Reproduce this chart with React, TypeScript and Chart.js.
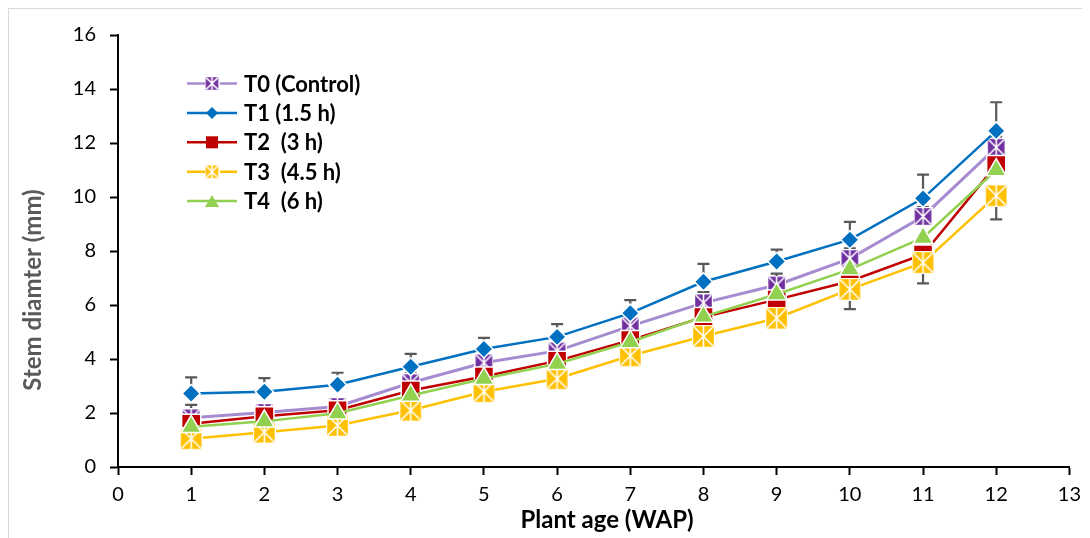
import { useEffect, useRef } from 'react';
import { Chart, registerables } from 'chart.js';

Chart.register(...registerables);

// Weeks after planting (x) and mean stem diameter (mm) per treatment
const weeks = [1, 2, 3, 4, 5, 6, 7, 8, 9, 10, 11, 12];
const t0Values = [1.82, 2.02, 2.24, 3.12, 3.86, 4.3, 5.22, 6.08, 6.74, 7.72, 9.28, 11.84];
const t1Values = [2.72, 2.79, 3.05, 3.71, 4.37, 4.82, 5.7, 6.86, 7.61, 8.42, 9.95, 12.45];
const t2Values = [1.6, 1.88, 2.1, 2.83, 3.35, 3.93, 4.7, 5.55, 6.2, 6.88, 7.87, 11.18];
const t3Values = [1.05, 1.29, 1.54, 2.1, 2.79, 3.27, 4.12, 4.84, 5.51, 6.58, 7.57, 10.05];
const t4Values = [1.49, 1.69, 1.99, 2.65, 3.27, 3.82, 4.63, 5.57, 6.4, 7.32, 8.49, 11.0];

// Error bar half-widths
const t0ErrUp = [0.48, 0.3, 0.3, 0.35, 0.3, 0.3, 0.35, 0.4, 0.42, 0.38, 0.35, 0.4];
const t1ErrUp = [0.6, 0.5, 0.44, 0.48, 0.41, 0.47, 0.48, 0.66, 0.44, 0.66, 0.88, 1.06];
const t3ErrDown = [0.25, 0.25, 0.25, 0.25, 0.25, 0.3, 0.3, 0.3, 0.3, 0.73, 0.77, 0.88];

const seriesLabels = ['T0 (Control)', 'T1 (1.5 h)', 'T2  (3 h)', 'T3  (4.5 h)', 'T4  (6 h)'];
const lineColors = ['#A78BD0', '#0070C0', '#C00000', '#FFC000', '#92D050'];
const markerColors = ['#7030A0', '#0070C0', '#C00000', '#FFC000', '#92D050'];

const yMin = 0;
const yMax = 16;
const yStep = 2;
const xMin = 0;
const xMax = 13;
const xStep = 1;

const xTitle = 'Plant age (WAP)';
const yTitle = 'Stem diamter (mm)';

const FONT = 'Lato, "Open Sans", sans-serif';

// Square marker with a white asterisk-like cross
function boxStar(color: string, size: number): HTMLCanvasElement {
  const c = document.createElement('canvas');
  const s = size + 2;
  c.width = s;
  c.height = s;
  const g = c.getContext('2d')!;
  g.fillStyle = color;
  g.fillRect(1, 1, size, size);
  g.strokeStyle = '#ffffff';
  g.lineWidth = 1.6;
  g.beginPath();
  g.moveTo(1.5, 1.5);
  g.lineTo(s - 1.5, s - 1.5);
  g.moveTo(s - 1.5, 1.5);
  g.lineTo(1.5, s - 1.5);
  g.moveTo(s / 2, 1);
  g.lineTo(s / 2, s - 1);
  g.stroke();
  g.lineWidth = 1.2;
  g.strokeRect(0.6, 0.6, s - 1.2, s - 1.2);
  return c;
}

function toPoints(vals: number[]) {
  return weeks.map((w, i) => ({ x: w, y: vals[i] }));
}

const errorBarPlugin = {
  id: 'errorBars',
  beforeDatasetsDraw(chart: any) {
    const { ctx } = chart;
    const xs = chart.scales.x;
    const ys = chart.scales.y;
    const draw = (vals: number[], errs: number[], dir: number) => {
      vals.forEach((v, i) => {
        const px = xs.getPixelForValue(weeks[i]);
        const p0 = ys.getPixelForValue(v);
        const p1 = ys.getPixelForValue(v + dir * errs[i]);
        ctx.beginPath();
        ctx.moveTo(px, p0);
        ctx.lineTo(px, p1);
        ctx.moveTo(px - 6, p1);
        ctx.lineTo(px + 6, p1);
        ctx.stroke();
      });
    };
    ctx.save();
    ctx.strokeStyle = '#595959';
    ctx.lineWidth = 2.2;
    draw(t0Values, t0ErrUp, 1);
    draw(t1Values, t1ErrUp, 1);
    draw(t3Values, t3ErrDown, -1);
    ctx.restore();
  },
};

function legendMarker(ctx: CanvasRenderingContext2D, i: number, x: number, y: number) {
  ctx.save();
  ctx.fillStyle = markerColors[i];
  if (i === 0 || i === 3) {
    const img = boxStar(markerColors[i], 13);
    ctx.drawImage(img, x - img.width / 2, y - img.height / 2);
  } else if (i === 1) {
    ctx.beginPath();
    ctx.moveTo(x, y - 6);
    ctx.lineTo(x + 6, y);
    ctx.lineTo(x, y + 6);
    ctx.lineTo(x - 6, y);
    ctx.closePath();
    ctx.fill();
  } else if (i === 2) {
    ctx.fillRect(x - 6, y - 6, 12, 12);
  } else {
    ctx.beginPath();
    ctx.moveTo(x, y - 6);
    ctx.lineTo(x + 7, y + 6);
    ctx.lineTo(x - 7, y + 6);
    ctx.closePath();
    ctx.fill();
  }
  ctx.restore();
}

const decorPlugin = {
  id: 'decor',
  afterDraw(chart: any) {
    const { ctx } = chart;
    ctx.save();
    // legend
    for (let i = 0; i < seriesLabels.length; i++) {
      const y = 74.5 + i * 29.4;
      ctx.strokeStyle = lineColors[i];
      ctx.lineWidth = 2.5;
      ctx.beginPath();
      ctx.moveTo(178, y);
      ctx.lineTo(228, y);
      ctx.stroke();
      legendMarker(ctx, i, 203, y);
      ctx.fillStyle = '#000000';
      ctx.font = `bold 22px ${FONT}`;
      ctx.textAlign = 'left';
      ctx.textBaseline = 'middle';
      ctx.fillText(seriesLabels[i], 235, y + 1);
    }
    // axis titles
    ctx.fillStyle = '#000000';
    ctx.font = `bold 24px ${FONT}`;
    ctx.textAlign = 'center';
    ctx.textBaseline = 'alphabetic';
    ctx.fillText(xTitle, 598, 519);
    ctx.translate(32, 281);
    ctx.rotate(-Math.PI / 2);
    ctx.fillStyle = '#595959';
    ctx.font = `bold 24px ${FONT}`;
    ctx.fillText(yTitle, 0, 0);
    ctx.restore();
  },
};

export default function App() {
  const ref = useRef<HTMLCanvasElement | null>(null);

  useEffect(() => {
    if (!ref.current) return;
    const styles = [
      boxStar(markerColors[0], 17),
      'rectRot',
      'rect',
      boxStar(markerColors[3], 21),
      'triangle',
    ];
    const radii = [9, 9, 13.5, 11, 11.5];
    const series = [t0Values, t1Values, t2Values, t3Values, t4Values];
    const chart = new Chart(ref.current, {
      type: 'line',
      data: {
        datasets: series.map((vals, i) => ({
          label: seriesLabels[i],
          data: toPoints(vals),
          borderColor: lineColors[i],
          borderWidth: i === 0 ? 3 : 2.5,
          backgroundColor: markerColors[i],
          pointStyle: styles[i] as any,
          pointRadius: radii[i],
          pointBackgroundColor: markerColors[i],
          pointBorderColor: '#ffffff',
          pointBorderWidth: 1.5,
          order: 5 - i,
          tension: 0,
        })),
      },
      options: {
        responsive: false,
        animation: false,
        layout: { padding: { left: 0, top: 20, right: 15, bottom: 0 } },
        plugins: {
          legend: { display: false },
          tooltip: { enabled: false },
        },
        scales: {
          x: {
            type: 'linear',
            min: xMin,
            max: xMax,
            ticks: {
              stepSize: xStep,
              color: '#000000',
              font: { family: FONT, size: 20 },
              padding: 8,
            },
            grid: {
              drawOnChartArea: false,
              drawTicks: true,
              tickLength: 8,
              tickColor: '#000000',
              tickWidth: 2,
            },
            border: { color: '#000000', width: 2 },
            afterFit(scale: any) {
              scale.height = 80;
            },
          },
          y: {
            type: 'linear',
            min: yMin,
            max: yMax,
            ticks: {
              stepSize: yStep,
              color: '#000000',
              font: { family: FONT, size: 20 },
              padding: 14,
            },
            grid: {
              drawOnChartArea: false,
              drawTicks: true,
              tickLength: 8,
              tickColor: '#000000',
              tickWidth: 2,
            },
            border: { color: '#000000', width: 2 },
            afterFit(scale: any) {
              scale.width = 109;
            },
          },
        },
      },
      plugins: [errorBarPlugin, decorPlugin],
    });
    return () => chart.destroy();
  }, []);

  return (
    <div
      style={{
        width: 1082,
        height: 540,
        border: '1px solid #D9D9D9',
        boxSizing: 'border-box',
        background: '#ffffff',
      }}
    >
      <canvas ref={ref} width={1080} height={538} style={{ display: 'block' }} />
    </div>
  );
}
